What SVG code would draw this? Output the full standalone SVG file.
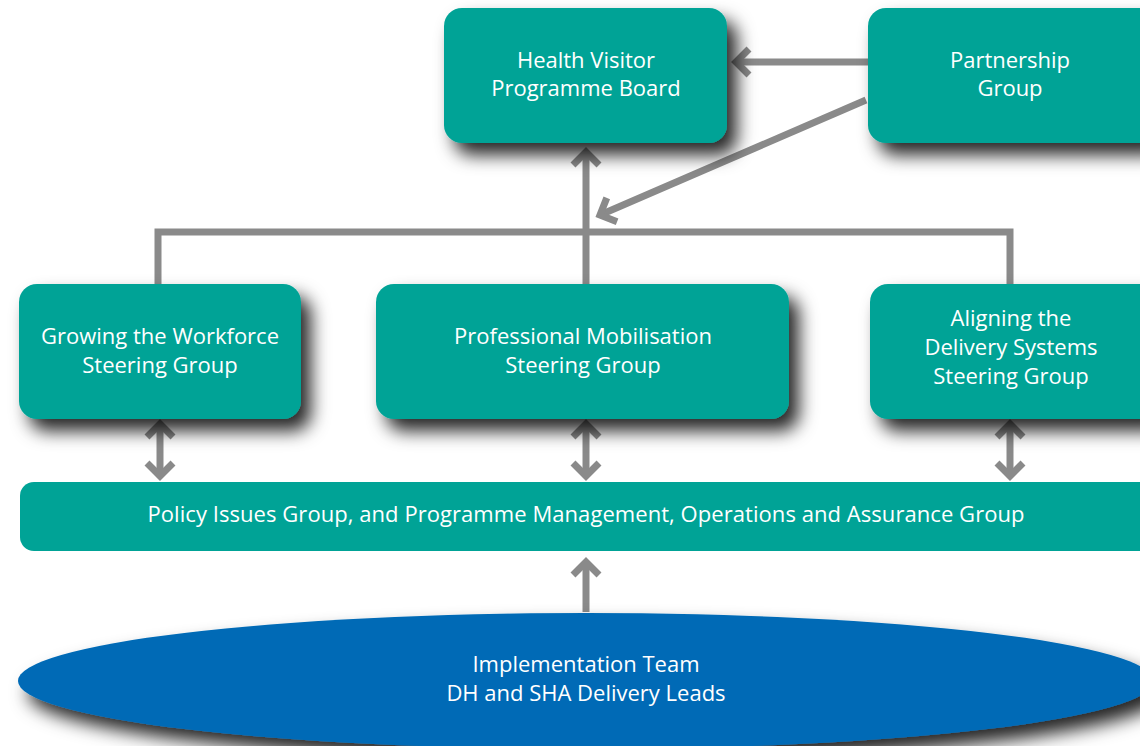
<svg xmlns="http://www.w3.org/2000/svg" width="1140" height="746" viewBox="0 0 1140 746">
<defs>
<filter id="sh" x="-15%" y="-25%" width="140%" height="180%">
<feDropShadow dx="10" dy="12" stdDeviation="9" flood-color="#000" flood-opacity="0.85"/>
</filter>
<marker id="ah" viewBox="-20 -20 40 40" markerWidth="40" markerHeight="40" refX="0" refY="0" orient="auto" markerUnits="userSpaceOnUse">
<path d="M-13,-13 L0,0 L-13,13" fill="none" stroke="#8a8a8a" stroke-width="7"/>
</marker>
<style>
.box{fill:#00a396;filter:url(#sh)}
.t{font-family:"Open Sans","Noto Sans",sans-serif;font-size:22px;fill:#fff;text-anchor:middle}
.ln{stroke:#8a8a8a;stroke-width:7;fill:none}
</style>
</defs>
<rect width="1140" height="746" fill="#fff"/>
<g id="connectors">
<path class="ln" d="M158,284 V232 H1010 V284"/>
<path class="ln" d="M586,284 V152" marker-end="url(#ah)"/>
<path class="ln" d="M868,62 H736" marker-end="url(#ah)"/>
<path class="ln" d="M866,100 L600,215" marker-end="url(#ah)"/>
<path class="ln" d="M160,450 V424" marker-end="url(#ah)"/>
<path class="ln" d="M160,450 V476" marker-end="url(#ah)"/>
<path class="ln" d="M586,450 V424" marker-end="url(#ah)"/>
<path class="ln" d="M586,450 V476" marker-end="url(#ah)"/>
<path class="ln" d="M1010,450 V424" marker-end="url(#ah)"/>
<path class="ln" d="M1010,450 V476" marker-end="url(#ah)"/>
<path class="ln" d="M586,612 V562" marker-end="url(#ah)"/>
</g>
<g id="board">
<rect class="box" x="444" y="8" width="283" height="135" rx="18"/>
<text class="t" x="586" y="68">Health Visitor</text>
<text class="t" x="586" y="96">Programme Board</text>
</g>
<g id="partnership">
<rect class="box" x="868" y="8" width="290" height="135" rx="18"/>
<text class="t" x="1010" y="68">Partnership</text>
<text class="t" x="1010" y="96">Group</text>
</g>
<g id="growing">
<rect class="box" x="19" y="284" width="282" height="135" rx="18"/>
<text class="t" x="160" y="344">Growing the Workforce</text>
<text class="t" x="160" y="373">Steering Group</text>
</g>
<g id="professional">
<rect class="box" x="376" y="284" width="413" height="135" rx="18"/>
<text class="t" x="583" y="344">Professional Mobilisation</text>
<text class="t" x="583" y="373">Steering Group</text>
</g>
<g id="aligning">
<rect class="box" x="870" y="284" width="290" height="135" rx="18"/>
<text class="t" x="1011" y="326">Aligning the</text>
<text class="t" x="1011" y="355">Delivery Systems</text>
<text class="t" x="1011" y="384">Steering Group</text>
</g>
<g id="policy">
<rect x="20" y="482" width="1140" height="69" rx="14" fill="#00a396"/>
<text class="t" x="586" y="522" textLength="877" lengthAdjust="spacing">Policy Issues Group, and Programme Management, Operations and Assurance Group</text>
</g>
<g id="implementation">
<ellipse cx="586" cy="681" rx="568" ry="68" fill="#006bb6" filter="url(#sh)"/>
<text class="t" x="586" y="672">Implementation Team</text>
<text class="t" x="586" y="701">DH and SHA Delivery Leads</text>
</g>
</svg>
